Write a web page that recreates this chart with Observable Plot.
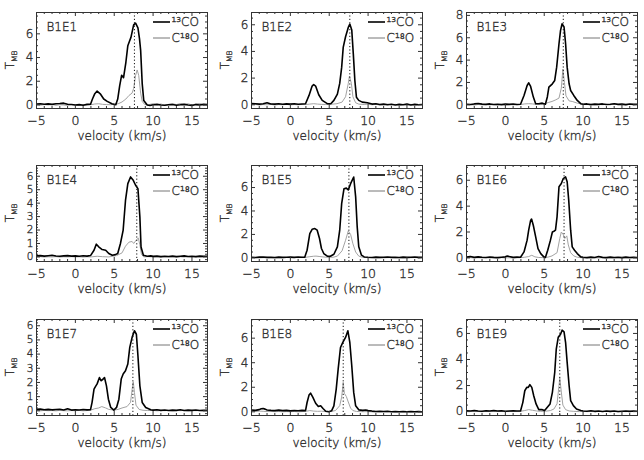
<!DOCTYPE html>
<html><head><meta charset="utf-8">
<script src="https://cdn.jsdelivr.net/npm/d3@7"></script>
<script src="https://cdn.jsdelivr.net/npm/@observablehq/plot@0.6"></script>
<style>
body{margin:0;background:#fff;}
#wrap{position:relative;width:644px;height:460px;overflow:hidden;background:#fff;}
.panel{position:absolute;}
svg text{font-weight:200;stroke:#333;stroke-width:0.35px;}
</style></head><body><div id="wrap"></div>
<script>
const panelNames = ["B1E1","B1E2","B1E3","B1E4","B1E5","B1E6","B1E7","B1E8","B1E9"];
const vSys = [7.6, 7.65, 7.45, 7.9, 7.53, 7.55, 7.4, 6.8, 7.0];
const yMin = [-0.3, -0.28, -0.33, -0.34, -0.31, -0.28, -0.33, -0.3, -0.3];
const yMax = [7.8, 6.92, 8.26, 6.8, 7.88, 7.14, 6.44, 7.52, 7.07];
const yStep = [2, 2, 2, 1, 2, 2, 1, 2, 2];
const xMajor = [-5, 0, 5, 10, 15];
const legendLabels = ["\u00b9\u00b3CO", "C\u00b9\u2078O"];

const co13_B1E1 = [[-5,0.08],[-4.5,0.1],[-4,0.06],[-3.5,0.09],[-3,0.05],[-2.5,0.1],[-2,0.12],[-1.5,0.15],[-1,0.06],[-0.5,0.04],[0,0.0],[0.5,0.03],[1,-0.02],[1.5,0.05],[1.95,0.06],[2.2,0.5],[2.5,0.95],[2.8,1.17],[3.2,0.94],[3.65,0.5],[4.1,0.3],[4.7,0.1],[5.2,0.02],[5.45,0.5],[5.7,1.6],[5.95,2.5],[6.2,2.3],[6.5,3.6],[6.75,5.0],[6.95,5.35],[7.15,5.7],[7.5,6.75],[7.75,6.9],[8.05,6.5],[8.25,5.6],[8.4,4.6],[8.6,1.8],[8.8,0.37],[9.25,0.0],[9.6,-0.05],[10,0.02],[10.5,0.05],[11,0.0],[11.5,-0.03],[12,0.02],[12.5,0.04],[13,-0.02],[13.5,0.01],[14,0.05],[14.5,0.0],[15,-0.04],[15.5,0.03],[16,0.0],[16.5,0.05],[17,0.02]];
const c18_B1E1 = [[-5,0.02],[-4.5,-0.02],[-4,0.03],[-3.5,0.0],[-3,0.04],[-2.5,-0.03],[-2,0.02],[-1.5,0.0],[-1,-0.04],[-0.5,0.03],[0,0.0],[0.5,-0.02],[1,0.03],[1.5,0.0],[2,0.02],[2.5,0.08],[3,0.1],[3.5,0.05],[4,0.03],[4.5,0.02],[5,0.05],[5.5,0.1],[6,0.25],[6.5,0.5],[6.9,0.8],[7.3,1.0],[7.5,1.4],[7.75,2.5],[7.95,2.95],[8.15,2.5],[8.4,1.0],[8.6,0.3],[8.9,0.05],[9.3,0.0],[9.7,0.06],[10,0.1],[10.5,0.02],[11,0.08],[11.5,-0.02],[12,0.05],[12.5,0.1],[13,0.03],[13.5,0.12],[14,0.05],[14.5,0.1],[15,0.0],[15.5,0.08],[16,0.12],[16.5,0.02],[17,0.06]];

const co13_B1E2 = [[-5,0.1],[-4.5,0.08],[-4,0.05],[-3.5,0.08],[-3,0.15],[-2.5,0.06],[-2,0.05],[-1.5,0.08],[-1,0.04],[-0.5,0.07],[0,0.05],[0.5,0.08],[1,0.04],[1.5,0.06],[1.95,0.08],[2.4,0.7],[2.8,1.4],[3.0,1.52],[3.25,1.4],[3.65,0.75],[4.1,0.33],[4.75,0.08],[5.2,0.08],[5.6,0.33],[6.05,0.8],[6.35,1.6],[6.6,2.8],[6.8,4.3],[7.1,5.1],[7.45,5.8],[7.65,6.05],[7.9,5.6],[8.1,3.8],[8.3,1.8],[8.5,0.57],[8.8,0.33],[9.25,0.2],[9.9,0.15],[10.5,0.05],[11,0.08],[11.5,0.02],[12,0.05],[12.5,0.0],[13,0.04],[13.5,-0.02],[14,0.03],[14.5,0.0],[15,0.05],[15.5,-0.02],[16,0.03],[16.5,0.0],[17,0.02]];
const c18_B1E2 = [[-5,0.0],[-4.5,0.03],[-4,-0.02],[-3.5,0.02],[-3,0.0],[-2.5,0.03],[-2,-0.02],[-1.5,0.02],[-1,0.0],[-0.5,0.03],[0,-0.01],[0.5,0.02],[1,0.0],[1.5,0.03],[2,0.02],[2.5,0.05],[3,0.08],[3.5,0.05],[4,0.03],[4.5,0.02],[5,0.04],[5.5,0.05],[6,0.08],[6.65,0.2],[7.1,0.6],[7.45,1.6],[7.6,2.15],[7.85,1.6],[8.05,0.6],[8.4,0.15],[8.8,0.05],[9.5,0.02],[10,0.05],[10.5,0.0],[11,0.03],[11.5,-0.02],[12,0.02],[12.5,0.04],[13,0.0],[13.5,0.03],[14,-0.02],[14.5,0.02],[15,0.0],[15.5,0.03],[16,-0.01],[16.5,0.02],[17,0.0]];

const co13_B1E3 = [[-5,0.05],[-4.5,0.03],[-4,0.08],[-3.5,0.12],[-3,0.06],[-2.5,0.04],[-2,0.08],[-1.5,0.03],[-1,0.05],[-0.5,0.02],[0,0.06],[0.5,0.04],[1,0.07],[1.5,0.03],[1.95,0.05],[2.4,0.84],[2.8,1.73],[3.0,1.97],[3.25,1.64],[3.6,0.69],[3.9,0.09],[4.3,0.1],[4.75,0.15],[5.15,0.05],[5.4,0.7],[5.6,1.58],[6.05,1.88],[6.35,2.18],[6.6,3.37],[6.9,5.46],[7.1,6.66],[7.3,7.25],[7.55,6.96],[7.75,5.46],[7.95,3.37],[8.2,1.88],[8.4,1.28],[8.8,0.84],[9.25,0.39],[9.7,0.1],[10,0.05],[10.5,0.08],[11,0.02],[11.5,0.06],[12,0.04],[12.5,0.08],[13,0.03],[13.5,0.05],[14,0.1],[14.5,0.04],[15,0.06],[15.5,0.02],[16,0.07],[16.5,0.04],[17,0.05]];
const c18_B1E3 = [[-5,0.0],[-4.5,0.02],[-4,-0.02],[-3.5,0.03],[-3,0.0],[-2.5,0.02],[-2,-0.01],[-1.5,0.02],[-1,0.0],[-0.5,0.03],[0,0.0],[0.5,0.02],[1,-0.01],[1.5,0.02],[2,0.03],[2.5,0.08],[3,0.1],[3.5,0.08],[4,0.04],[4.5,0.03],[5,0.08],[5.5,0.2],[6.0,0.3],[6.5,0.45],[6.9,0.6],[7.2,1.5],[7.4,3.2],[7.6,2.0],[7.8,0.8],[8.2,0.35],[8.6,0.3],[9.25,0.15],[9.9,0.05],[10.5,0.02],[11,0.04],[11.5,0.0],[12,0.03],[12.5,0.01],[13,0.04],[13.5,0.0],[14,0.08],[14.5,0.02],[15,0.03],[15.5,0.0],[16,0.03],[16.5,0.01],[17,0.02]];

const co13_B1E4 = [[-5,0.08],[-4.5,0.1],[-4,0.06],[-3.5,0.09],[-3,0.12],[-2.5,0.07],[-2,0.05],[-1.5,0.08],[-1,0.1],[-0.5,0.06],[0,0.08],[0.5,0.05],[1,0.09],[1.5,0.06],[1.95,0.1],[2.4,0.5],[2.7,0.95],[3.0,0.75],[3.45,0.55],[3.9,0.5],[4.3,0.25],[4.75,0.12],[5.15,0.17],[5.45,0.25],[5.8,1.0],[6.15,2.0],[6.45,4.2],[6.75,5.45],[7.1,5.95],[7.45,5.7],[7.75,5.33],[8.05,5.08],[8.3,2.98],[8.45,0.74],[8.75,0.12],[9.25,0.05],[9.7,0.08],[10,0.04],[10.5,0.06],[11,0.02],[11.5,0.05],[12,0.03],[12.5,0.06],[13,0.02],[13.5,0.05],[14,0.08],[14.5,0.03],[15,0.05],[15.5,0.02],[16,0.06],[16.5,0.04],[17,0.05]];
const c18_B1E4 = [[-5,0.0],[-4.5,0.02],[-4,-0.01],[-3.5,0.01],[-3,0.0],[-2.5,0.02],[-2,-0.01],[-1.5,0.01],[-1,0.0],[-0.5,0.02],[0,0.0],[0.5,0.01],[1,-0.01],[1.5,0.01],[2,0.0],[2.8,0.05],[3.5,0.02],[4.3,0.0],[5.3,0.1],[6.0,0.3],[6.45,0.8],[6.9,1.1],[7.3,1.15],[7.5,1.0],[7.9,1.3],[8.1,1.4],[8.3,0.9],[8.5,0.2],[8.8,0.0],[9.3,0.02],[10,0.0],[10.5,0.02],[11,-0.01],[11.5,0.01],[12,0.0],[12.5,0.02],[13,0.0],[13.5,0.01],[14,-0.01],[14.5,0.02],[15,0.0],[15.5,0.01],[16,0.0],[16.5,0.02],[17,0.0]];

const co13_B1E5 = [[-5,0.05],[-4.5,0.03],[-4,0.06],[-3.5,0.08],[-3,0.04],[-2.5,0.05],[-2,0.03],[-1.5,0.06],[-1,0.04],[-0.5,0.05],[0,0.06],[0.5,0.04],[1,0.07],[1.5,0.05],[1.85,0.06],[2.15,0.65],[2.5,2.07],[2.8,2.44],[3.15,2.5],[3.45,2.36],[3.75,1.65],[4.0,0.8],[4.3,0.37],[4.75,0.14],[5.15,0.14],[5.6,0.31],[6.05,0.94],[6.35,2.36],[6.6,4.63],[6.9,5.9],[7.2,5.95],[7.45,5.8],[7.75,6.33],[8.15,6.9],[8.4,5.2],[8.6,2.64],[8.8,0.94],[9.15,0.23],[9.5,0.08],[10,0.05],[10.5,0.03],[11,0.06],[11.5,0.04],[12,0.05],[12.5,0.08],[13,0.04],[13.5,0.05],[14,0.03],[14.5,0.06],[15,0.04],[15.5,0.05],[16,0.07],[16.5,0.04],[17,0.05]];
const c18_B1E5 = [[-5,0.0],[-4.5,0.02],[-4,0.0],[-3.5,0.02],[-3,0.01],[-2.5,0.03],[-2,0.0],[-1.5,0.02],[-1,0.01],[-0.5,0.03],[0,0.02],[0.5,0.03],[1,0.02],[1.5,0.04],[2,0.05],[2.5,0.1],[3,0.14],[3.3,0.15],[3.7,0.12],[4.2,0.08],[4.7,0.05],[5.5,0.05],[6.05,0.15],[6.65,0.6],[7.1,1.5],[7.45,2.3],[7.75,2.0],[8.05,1.2],[8.4,0.5],[8.8,0.15],[9.25,0.05],[10,0.02],[10.5,0.03],[11,0.01],[11.5,0.02],[12,0.0],[12.5,0.02],[13,0.03],[13.5,0.01],[14,0.02],[14.5,0.0],[15,0.02],[15.5,0.01],[16,0.03],[16.5,0.0],[17,0.02]];

const co13_B1E6 = [[-5,0.06],[-4.5,0.1],[-4,0.04],[-3.5,0.08],[-3,0.05],[-2.5,0.03],[-2,0.07],[-1.5,0.04],[-1,0.02],[-0.5,0.05],[0,0.08],[0.25,0.15],[0.5,0.1],[1,0.04],[1.5,0.06],[1.95,0.05],[2.4,0.46],[2.8,1.37],[3.0,2.14],[3.25,2.9],[3.37,3.0],[3.6,2.5],[3.9,1.62],[4.2,0.72],[4.55,0.33],[4.95,0.08],[5.15,0.03],[5.45,0.59],[5.8,1.37],[6.05,2.0],[6.25,2.06],[6.45,2.14],[6.65,3.17],[6.9,5.5],[7.2,5.75],[7.45,6.13],[7.75,6.26],[7.95,5.88],[8.15,4.46],[8.4,2.14],[8.6,0.85],[8.9,0.59],[9.25,0.33],[9.7,0.08],[10,0.05],[10.5,0.02],[11,0.06],[11.5,0.03],[12,0.1],[12.5,0.04],[13,0.02],[13.5,0.06],[14,0.03],[14.5,0.05],[15,0.02],[15.5,0.06],[16,0.03],[16.5,0.05],[17,0.02]];
const c18_B1E6 = [[-5,0.0],[-4.5,0.02],[-4,-0.01],[-3.5,0.01],[-3,0.0],[-2.5,0.02],[-2,-0.01],[-1.5,0.01],[-1,0.0],[-0.5,0.02],[0,0.0],[0.5,0.01],[1,-0.01],[1.5,0.01],[2,0.02],[2.5,0.05],[3,0.1],[3.4,0.2],[3.8,0.08],[4.3,0.03],[5,0.02],[5.5,0.06],[6.0,0.15],[6.65,0.4],[7.0,1.5],[7.2,2.0],[7.45,1.8],[7.65,1.5],[7.9,1.7],[8.1,1.0],[8.4,0.4],[8.8,0.15],[9.25,0.05],[10,0.0],[10.5,0.02],[11,0.0],[11.5,0.01],[12,-0.01],[12.5,0.02],[13,0.0],[13.5,0.01],[14,0.0],[14.5,0.02],[15,-0.01],[15.5,0.01],[16,0.0],[16.5,0.02],[17,0.0]];

const co13_B1E7 = [[-5,0.1],[-4.5,0.12],[-4,0.08],[-3.5,0.1],[-3,0.07],[-2.5,0.09],[-2,0.11],[-1.5,0.06],[-1,0.14],[-0.5,0.05],[0,0.08],[0.5,0.06],[1,0.09],[1.5,0.07],[1.95,0.08],[2.15,0.6],[2.4,1.53],[2.6,1.72],[2.8,1.9],[3.1,2.35],[3.3,2.12],[3.5,2.2],[3.75,2.35],[4.0,1.76],[4.25,0.82],[4.55,0.24],[4.95,0.05],[5.3,0.24],[5.6,0.82],[5.9,2.24],[6.15,2.6],[6.45,2.82],[6.75,3.3],[7.0,4.47],[7.3,5.18],[7.6,5.65],[7.85,5.4],[8.05,3.88],[8.3,1.76],[8.6,0.59],[9.05,0.24],[9.7,0.07],[10,0.05],[10.5,0.08],[11,0.03],[11.5,0.06],[12,0.02],[12.5,0.05],[13,0.03],[13.5,0.07],[14,0.02],[14.5,0.05],[15,0.03],[15.5,0.06],[16,0.02],[16.5,0.04],[17,0.03]];
const c18_B1E7 = [[-5,0.02],[-4.5,0.0],[-4,0.03],[-3.5,0.01],[-3,0.02],[-2.5,0.0],[-2,0.03],[-1.5,0.01],[-1,0.0],[-0.5,0.02],[0,0.01],[0.5,0.03],[1,0.0],[1.5,0.02],[2,0.05],[2.5,0.15],[3,0.2],[3.4,0.3],[3.9,0.2],[4.3,0.1],[5,0.05],[5.5,0.1],[6.0,0.2],[6.65,0.3],[7.1,0.6],[7.3,1.5],[7.45,2.05],[7.6,1.3],[7.8,0.4],[8.2,0.1],[8.7,0.04],[9.3,0.02],[10,0.03],[10.5,0.0],[11,0.02],[11.5,0.01],[12,0.03],[12.5,0.0],[13,0.02],[13.5,0.01],[14,0.03],[14.5,0.0],[15,0.02],[15.5,0.01],[16,0.02],[16.5,0.0],[17,0.02]];

const co13_B1E8 = [[-5,0.15],[-4.5,0.12],[-4,0.18],[-3.75,0.25],[-3.5,0.27],[-3.25,0.22],[-3,0.15],[-2.5,0.12],[-2,0.1],[-1.5,0.14],[-1,0.1],[-0.5,0.12],[0,0.08],[0.5,0.11],[1,0.09],[1.5,0.12],[1.95,0.1],[2.15,0.76],[2.4,1.36],[2.6,1.52],[2.9,1.17],[3.25,0.7],[3.6,0.43],[3.9,0.49],[4.2,0.27],[4.55,0.05],[4.95,0.0],[5.3,0.08],[5.6,0.49],[5.9,1.85],[6.15,3.48],[6.45,5.24],[6.75,5.65],[7.1,6.06],[7.4,6.6],[7.65,5.65],[7.9,3.75],[8.15,1.58],[8.4,0.49],[8.8,0.16],[9.3,0.12],[9.7,0.15],[10,0.1],[10.5,0.06],[11,0.03],[11.5,0.05],[12,0.02],[12.5,0.04],[13,0.01],[13.5,0.03],[14,0.0],[14.5,0.02],[15,0.01],[15.5,0.03],[16,0.0],[16.5,0.02],[17,0.01]];
const c18_B1E8 = [[-5,0.05],[-4.5,0.03],[-4,0.06],[-3.5,0.04],[-3,0.02],[-2.5,0.04],[-2,0.01],[-1.5,0.03],[-1,0.0],[-0.5,0.02],[0,0.01],[0.5,0.03],[1,0.0],[1.5,0.02],[2,0.04],[2.5,0.1],[3,0.06],[3.5,0.04],[4,0.05],[4.5,0.02],[5.2,0.03],[5.8,0.1],[6.35,0.5],[6.6,1.2],[6.8,2.4],[6.95,1.5],[7.2,1.25],[7.45,0.8],[7.75,0.3],[8.05,0.1],[8.5,0.03],[9.2,0.01],[10,0.02],[10.5,0.0],[11,0.01],[11.5,-0.01],[12,0.01],[12.5,0.0],[13,0.02],[13.5,-0.01],[14,0.01],[14.5,0.0],[15,0.02],[15.5,-0.01],[16,0.01],[16.5,0.0],[17,0.01]];

const co13_B1E9 = [[-5,0.06],[-4.5,0.04],[-4,0.08],[-3.5,0.05],[-3,0.03],[-2.5,0.07],[-2,0.05],[-1.5,0.08],[-1,0.04],[-0.5,0.06],[0,0.03],[0.5,0.05],[1,0.07],[1.5,0.04],[1.95,0.05],[2.25,0.71],[2.5,1.6],[2.75,1.86],[2.95,1.86],[3.15,2.07],[3.4,1.86],[3.65,1.22],[3.95,0.59],[4.3,0.15],[4.75,0.15],[5.05,0.08],[5.4,0.33],[5.75,0.59],[6.05,1.48],[6.35,3.0],[6.55,4.8],[6.8,5.7],[7.1,5.94],[7.3,6.25],[7.55,6.12],[7.75,5.3],[7.95,3.78],[8.2,2.0],[8.4,0.84],[8.75,0.46],[9.15,0.2],[9.7,0.08],[10,0.05],[10.5,0.03],[11,0.06],[11.5,0.02],[12,0.04],[12.5,0.01],[13,0.05],[13.5,0.02],[14,0.04],[14.5,0.01],[15,0.03],[15.5,0.05],[16,0.02],[16.5,0.04],[17,0.02]];
const c18_B1E9 = [[-5,0.0],[-4.5,0.02],[-4,0.0],[-3.5,0.01],[-3,-0.01],[-2.5,0.02],[-2,0.0],[-1.5,0.01],[-1,0.0],[-0.5,0.02],[0,0.0],[0.5,0.01],[1,0.0],[1.5,0.02],[2,0.03],[2.5,0.08],[3,0.15],[3.5,0.1],[4,0.05],[4.5,0.02],[5.2,0.03],[5.8,0.08],[6.25,0.2],[6.65,0.6],[6.9,2.0],[7.0,2.6],[7.2,1.5],[7.4,0.5],[7.75,0.15],[8.2,0.05],[8.8,0.02],[9.5,0.0],[10,0.02],[10.5,0.0],[11,0.01],[11.5,-0.01],[12,0.01],[12.5,0.0],[13,0.02],[13.5,0.0],[14,0.01],[14.5,-0.01],[15,0.01],[15.5,0.0],[16,0.02],[16.5,0.0],[17,0.01]];

const co13Series = [co13_B1E1, co13_B1E2, co13_B1E3, co13_B1E4, co13_B1E5, co13_B1E6, co13_B1E7, co13_B1E8, co13_B1E9];
const c18Series = [c18_B1E1, c18_B1E2, c18_B1E3, c18_B1E4, c18_B1E5, c18_B1E6, c18_B1E7, c18_B1E8, c18_B1E9];

const FONT = "DejaVu Sans, sans-serif";
const TXT = "#2e2e2e";
const AX = "#333";
const colLeft = [0, 215, 430];
const rowTop = [0, 153, 307];
const wrap = document.getElementById("wrap");

panelNames.forEach((name, i) => {
  const col = i % 3, row = Math.floor(i / 3);
  const W = col === 2 ? 214 : 215, H = 153;
  const mL = 36, mR = col === 2 ? 7 : 8, mT = 12, mB = 45;
  const fw = W - mL - mR, fh = H - mT - mB;
  const step = yStep[i];
  const minorStep = step === 2 ? 0.5 : 0.2;
  const yMajor = d3.range(0, yMax[i] + 1e-9, step);
  const yMinor = d3.range(Math.ceil(yMin[i] / minorStep) * minorStep, yMax[i], minorStep)
    .filter(v => Math.abs(v / step - Math.round(v / step)) > 1e-6);
  const xMinor = d3.range(-5, 17.001, 1).filter(v => v % 5 !== 0);
  const toRows = arr => arr.map(([v, t]) => ({v, t}));
  const tick = {stroke: AX, strokeWidth: 1};
  const fmt = d => d < 0 ? "\u2212" + Math.abs(d) : String(d);
  const yFont = step === 1 ? 10.5 : 12;

  const svg = Plot.plot({
    width: W, height: H,
    marginLeft: mL, marginRight: mR, marginTop: mT, marginBottom: mB,
    x: {domain: [-5, 17]},
    y: {domain: [yMin[i], yMax[i]]},
    style: {fontFamily: FONT, fontSize: "12px", color: TXT, background: "transparent", overflow: "visible"},
    marks: [
      Plot.line(toRows(c18Series[i]), {x: "v", y: "t", stroke: "#a3a3a3", strokeWidth: 1, clip: true}),
      Plot.line(toRows(co13Series[i]), {x: "v", y: "t", stroke: "#000", strokeWidth: 1.6, clip: true}),
      Plot.ruleX([vSys[i]], {stroke: "#111", strokeWidth: 1, strokeDasharray: "1.2,2.2"}),
      Plot.frame({stroke: AX, strokeWidth: 1}),
      Plot.ruleX(xMajor, {...tick, insetTop: fh - 4}),
      Plot.ruleX(xMajor, {...tick, insetBottom: fh - 4}),
      Plot.ruleX(xMinor, {...tick, insetTop: fh - 2}),
      Plot.ruleX(xMinor, {...tick, insetBottom: fh - 2}),
      Plot.ruleY(yMajor, {...tick, insetRight: fw - 4}),
      Plot.ruleY(yMajor, {...tick, insetLeft: fw - 4}),
      Plot.ruleY(yMinor, {...tick, insetRight: fw - 2}),
      Plot.ruleY(yMinor, {...tick, insetLeft: fw - 2}),
      Plot.axisX({ticks: xMajor, tickSize: 0, tickPadding: 8, tickFormat: fmt, label: null, fill: TXT, fontSize: 12.5}),
      Plot.axisY({ticks: yMajor, tickSize: 0, tickPadding: 3, tickFormat: fmt, label: null, fill: TXT, fontSize: yFont}),
      Plot.text([name], {frameAnchor: "top-left", dx: 10, dy: 15, textAnchor: "start", lineAnchor: "middle", fill: TXT, fontSize: 12}),
      Plot.text(["velocity (km/s)"], {frameAnchor: "bottom", dy: 28, lineAnchor: "middle", fill: TXT, fontSize: 12}),
      Plot.text([legendLabels[0]], {frameAnchor: "top-right", dx: -36, dy: 10, textAnchor: "start", lineAnchor: "middle", fill: TXT, fontSize: 12}),
      Plot.text([legendLabels[1]], {frameAnchor: "top-right", dx: -36, dy: 26, textAnchor: "start", lineAnchor: "middle", fill: TXT, fontSize: 12})
    ]
  });

  const s = d3.select(svg);
  const fr = W - mR;
  s.append("line").attr("x1", fr - 54).attr("x2", fr - 37).attr("y1", mT + 10).attr("y2", mT + 10)
    .attr("stroke", "#000").attr("stroke-width", 1.6);
  s.append("line").attr("x1", fr - 54).attr("x2", fr - 37).attr("y1", mT + 26).attr("y2", mT + 26)
    .attr("stroke", "#777").attr("stroke-width", 1);
  const yl = s.append("text")
    .attr("transform", `translate(14,${mT + fh / 2}) rotate(-90)`)
    .attr("text-anchor", "middle").attr("fill", TXT)
    .attr("font-family", FONT).attr("font-size", 12);
  yl.append("tspan").text("T");
  yl.append("tspan").attr("font-size", 7.5).attr("dy", "0.35em").text("MB");

  const div = document.createElement("div");
  div.className = "panel";
  div.style.left = colLeft[col] + "px";
  div.style.top = rowTop[row] + "px";
  div.appendChild(svg);
  wrap.appendChild(div);
});
</script>
</body></html>
